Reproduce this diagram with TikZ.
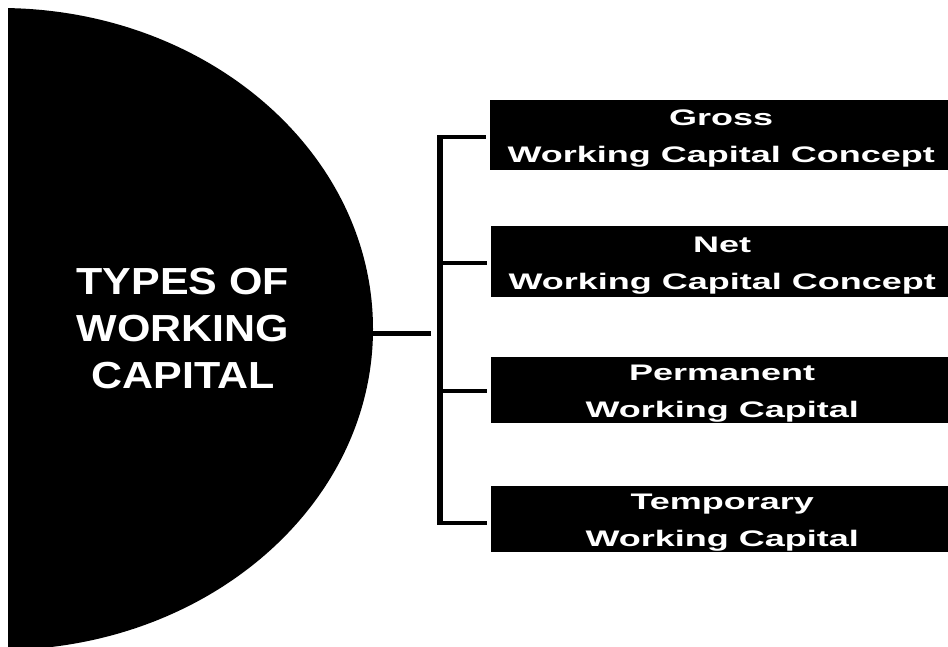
\documentclass[tikz,border=0pt]{standalone}
\usepackage{fontspec}
\usetikzlibrary{shapes.geometric}
\newfontfamily\titlefont{Liberation Sans}[FakeStretch=1.14]
\newfontfamily\boxfont{Liberation Sans}[FakeStretch=1.60]
\tikzset{
  bigoval/.style={ellipse, fill=black, draw=none, minimum width=746pt, minimum height=642pt, inner sep=0pt},
  titletext/.style={text=white, align=center, inner sep=0pt,
    font=\titlefont\bfseries\fontsize{37.7}{47}\selectfont},
  itembox/.style={fill=black, text=white, anchor=west, minimum width=462pt,
    minimum height=#1, inner sep=0pt, align=center, text height=57pt, text depth=2pt,
    font=\boxfont\bfseries\fontsize{22.5}{37}\selectfont},
  mainline/.style={line width=5pt, black},
  bracketline/.style={line width=6.5pt, black},
  tickline/.style={line width=4.2pt, black, shorten >=4pt},
}
\begin{document}
\begin{tikzpicture}[x=1pt, y=-1pt]
  \useasboundingbox (0,0) rectangle (948,646);
  \begin{scope}
    \clip (8,0) rectangle (948,646);
    \node[bigoval] (circ) at (0,329) {};
  \end{scope}
  \node[titletext] (title) at (183,328.5) {TYPES OF\\WORKING\\CAPITAL};

  \begin{scope}
    \clip (0,0) rectangle (948,646);
    \node[itembox=70pt] (b1) at (490,135) {Gross\\Working Capital Concept};
    \node[itembox=71pt] (b2) at (491,261.5) {Net\\Working Capital Concept};
    \node[itembox=66pt] (b3) at (491,390) {Permanent\\Working Capital};
    \node[itembox=66pt] (b4) at (491,519) {Temporary\\Working Capital};
  \end{scope}

  \coordinate (j) at (431,333);
  \coordinate (k1) at (437,137);
  \coordinate (k2) at (437,263);
  \coordinate (k3) at (437,391);
  \coordinate (k4) at (437,523);

  \draw[mainline] (circ.east |- j) -- (j);
  \draw[bracketline] (440,135) -- (440,525.1);
  \draw[tickline] (k1) -- (k1 -| b1.west);
  \draw[tickline] (k2) -- (k2 -| b2.west);
  \draw[tickline] (k3) -- (k3 -| b3.west);
  \draw[tickline] (k4) -- (k4 -| b4.west);
\end{tikzpicture}
\end{document}
